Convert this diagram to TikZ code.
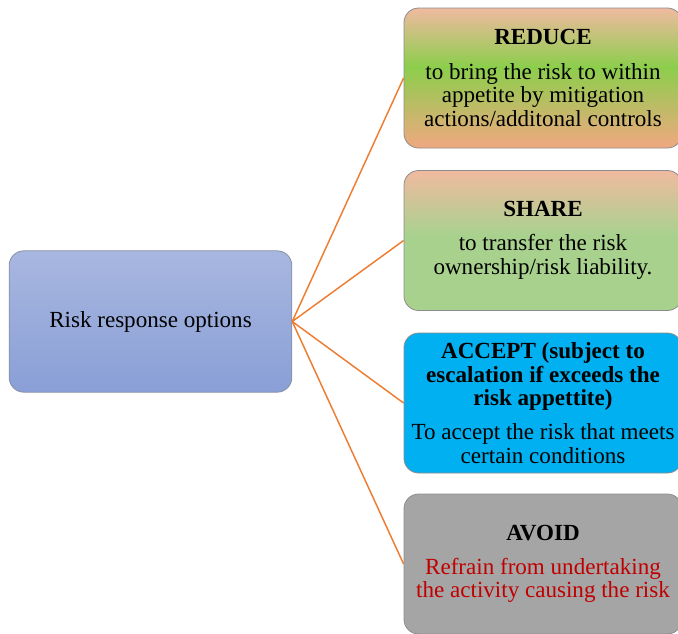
\documentclass[tikz,border=0pt]{standalone}
\usepackage{fontspec}
\setmainfont{Liberation Serif}

\definecolor{rootTop}{RGB}{168,183,224}
\definecolor{rootBot}{RGB}{137,159,214}
\definecolor{peachTop}{RGB}{240,186,160}
\definecolor{peachBot}{RGB}{240,168,128}
\definecolor{leafGreen}{RGB}{140,206,76}
\definecolor{shareGreen}{RGB}{169,209,142}
\definecolor{acceptBlue}{RGB}{0,176,240}
\definecolor{avoidGray}{RGB}{165,165,165}
\definecolor{avoidRed}{RGB}{192,0,0}
\definecolor{linkOrange}{RGB}{237,125,49}

\pgfdeclareverticalshading{reduceFill}{100bp}{color(0bp)=(peachBot); color(25bp)=(peachBot); color(54bp)=(leafGreen); color(75bp)=(peachTop); color(100bp)=(peachTop)}
\pgfdeclareverticalshading{shareFill}{100bp}{color(0bp)=(shareGreen); color(25bp)=(shareGreen); color(52bp)=(shareGreen); color(75bp)=(peachTop); color(100bp)=(peachTop)}

\begin{document}
\begin{tikzpicture}[x=0.75pt, y=-0.75pt,
  box/.style={rectangle, rounded corners=11pt, draw=black!45, line width=0.6pt,
    minimum width=208.5pt, minimum height=105pt, align=center,
    font=\fontsize{17.3}{17.6}\selectfont},
  link/.style={linkOrange, line width=1.1pt}]
\useasboundingbox (0,0) rectangle (678,633);

% Root
\node[box, draw=rootBot!60!black!70, minimum width=212pt, minimum height=106pt,
  top color=rootTop, bottom color=rootBot] (root) at (150.5,321.5) {Risk response options};

% Options
\node[box, shading=reduceFill] (reduce) at (543,78)
  {\textbf{REDUCE}\\[8pt] to bring the risk to within\\ appetite by mitigation\\ actions/additonal controls};
\node[box, shading=shareFill] (share) at (543,240.5)
  {\textbf{SHARE}\\[8pt] to transfer the risk\\ ownership/risk liability.};
\node[box, fill=acceptBlue] (accept) at (543,403)
  {\textbf{ACCEPT (subject to}\\ \textbf{escalation if exceeds the}\\ \textbf{risk appettite)}\\[8pt] To accept the risk that meets\\ certain conditions};
\node[box, fill=avoidGray] (avoid) at (543,564)
  {\textbf{AVOID}\\[8pt] \textcolor{avoidRed}{Refrain from undertaking}\\ \textcolor{avoidRed}{the activity causing the risk}};

% Links
\draw[link] (root.east) -- (reduce.west);
\draw[link] (root.east) -- (share.west);
\draw[link] (root.east) -- (accept.west);
\draw[link] (root.east) -- (avoid.west);
\end{tikzpicture}
\end{document}
